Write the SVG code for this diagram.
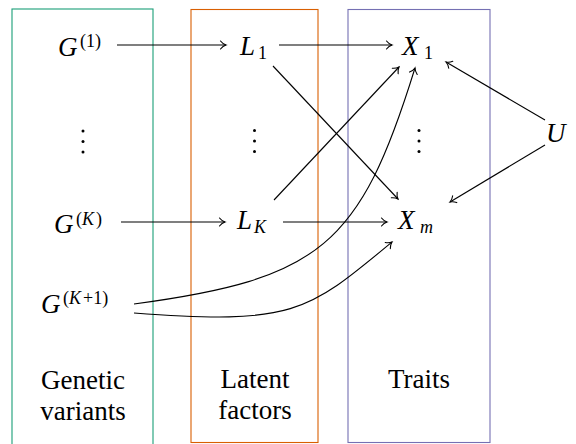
<svg xmlns="http://www.w3.org/2000/svg" width="576" height="444" viewBox="0 0 576 444">
<style>
.box{fill:none;stroke-width:1.1}
.lbl{font-family:"Liberation Serif","DejaVu Serif",serif;font-size:27px;fill:#000;text-anchor:middle}
.mi{font-family:"Liberation Serif","DejaVu Serif",serif;font-size:27px;font-style:italic;fill:#000}
.sc{font-size:18px}
.up{font-style:normal}
.e{fill:none;stroke:#000;stroke-width:1.1;marker-end:url(#tip)}
.dot{fill:#000}
</style>
<defs>
<marker id="tip" markerUnits="userSpaceOnUse" viewBox="-8 -6 10 12" refX="0" refY="0" markerWidth="10" markerHeight="12" orient="auto">
<path d="M-5.5,-4 C-3.5,-1.5 -1.2,-0.4 0,0 C-1.2,0.4 -3.5,1.5 -5.5,4" fill="none" stroke="#000" stroke-width="1.1" stroke-linecap="round"/>
</marker>
</defs>
<g id="col-genetic"><rect class="box" x="12" y="9" width="141" height="450" stroke="#1b9e77"/><text class="lbl" x="83" y="389">Genetic</text><text class="lbl" x="83" y="420">variants</text></g>
<g id="col-latent"><rect class="box" x="191" y="9.5" width="127" height="433" stroke="#d95f02"/><text class="lbl" x="255" y="388">Latent</text><text class="lbl" x="255" y="419">factors</text></g>
<g id="col-traits"><rect class="box" x="348" y="9.5" width="142" height="433" stroke="#7570b3"/><text class="lbl" x="419" y="388">Traits</text></g>
<g id="G1"><text class="mi" x="58" y="56">G<tspan class="sc up" x="80" y="47">(1)</tspan></text></g>
<g id="GK"><text class="mi" x="54" y="233">G<tspan class="sc up" x="76" y="225">(</tspan><tspan class="sc" x="82" y="225">K</tspan><tspan class="sc up" x="96" y="225">)</tspan></text></g>
<g id="GK1"><text class="mi" x="41" y="313">G<tspan class="sc up" x="63" y="304">(</tspan><tspan class="sc" x="69" y="304">K</tspan><tspan class="sc up" x="83" y="304">+1)</tspan></text></g>
<g id="L1"><text class="mi" x="240" y="55">L<tspan class="sc up" x="258" y="59">1</tspan></text></g>
<g id="LK"><text class="mi" x="237" y="229">L<tspan class="sc" x="254" y="233">K</tspan></text></g>
<g id="X1"><text class="mi" x="402" y="55">X<tspan class="sc up" x="424" y="59">1</tspan></text></g>
<g id="Xm"><text class="mi" x="398" y="229">X<tspan class="sc" x="420" y="233">m</tspan></text></g>
<g id="U"><text class="mi" x="546" y="142">U</text></g>
<g id="vdots">
<circle class="dot" cx="83" cy="131" r="1.5"/><circle class="dot" cx="83" cy="141.5" r="1.5"/><circle class="dot" cx="83" cy="152" r="1.5"/>
<circle class="dot" cx="254.5" cy="130.5" r="1.5"/><circle class="dot" cx="254.5" cy="141" r="1.5"/><circle class="dot" cx="254.5" cy="151.5" r="1.5"/>
<circle class="dot" cx="419" cy="130.5" r="1.5"/><circle class="dot" cx="419" cy="141" r="1.5"/><circle class="dot" cx="419" cy="151.5" r="1.5"/>
</g>
<g id="connectors">
<path class="e" d="M117,45 H226"/>
<path class="e" d="M279,45 H392"/>
<path class="e" d="M273,66 L398,199"/>
<path class="e" d="M121,222 H225"/>
<path class="e" d="M283,222 H387"/>
<path class="e" d="M274,200 L399,67"/>
<path class="e" d="M134,304 C320,279 360,246 415,68"/>
<path class="e" d="M134,313 C293.5,325 307.3,312.4 392,242"/>
<path class="e" d="M545,120 L446,62"/>
<path class="e" d="M545,145 L450,202"/>
</g>
</svg>
